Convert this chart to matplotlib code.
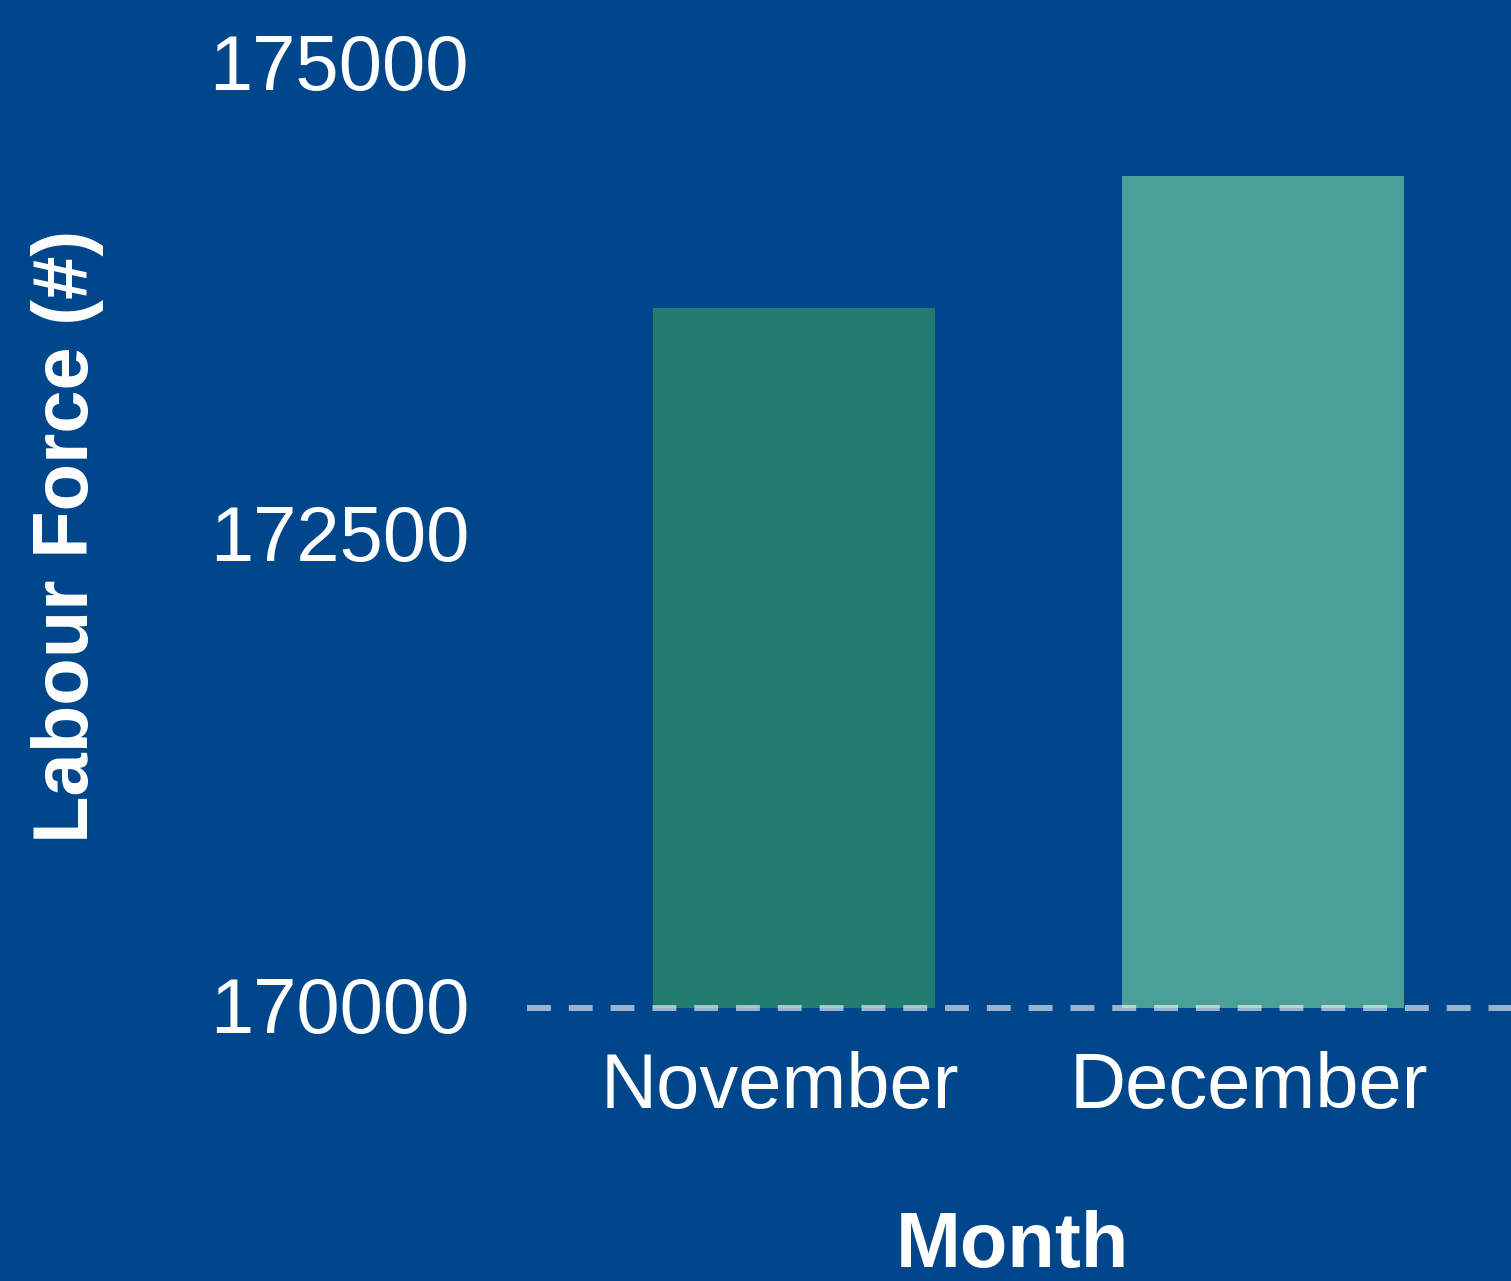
import matplotlib
matplotlib.use("Agg")
import matplotlib.pyplot as plt
import matplotlib.transforms as mtransforms

months = ["November", "December"]
labour_force = [173710, 174410]
bar_colors = ["#237C70", "#4AA096"]
y_ticks = [170000, 172500, 175000]

BG = "#00468B"
plt.rcParams["font.family"] = ["Liberation Sans", "DejaVu Sans"]

fig = plt.figure(figsize=(15.11, 12.81), dpi=100, facecolor=BG)
ax = fig.add_axes([0.349, 0.213, 0.651, 0.787], facecolor=BG)

x = list(range(len(months)))
base = y_ticks[0]
ax.bar(x, [v - base for v in labour_force], bottom=base, width=0.6,
       color=bar_colors, zorder=2)
ax.axhline(base, color="white", alpha=0.6, lw=4.3, ls=(0, (4, 3)),
           zorder=3, clip_on=False)

ax.set_xlim(-0.569, 1.529)
ax.set_ylim(170000, 175345)
ax.set_xticks(x)
ax.set_xticklabels(months)
ax.set_yticks(y_ticks)
ax.set_yticklabels([str(t) for t in y_ticks])
ax.tick_params(axis="both", length=0, colors="white", labelsize=56)
ax.tick_params(axis="y", pad=42)
ax.tick_params(axis="x", pad=31)
shift = mtransforms.ScaledTranslation(-0.14, 0, fig.dpi_scale_trans)
for lbl in ax.get_xticklabels():
    lbl.set_transform(lbl.get_transform() + shift)
yshift = mtransforms.ScaledTranslation(0, 0.04, fig.dpi_scale_trans)
for lbl in ax.get_yticklabels():
    lbl.set_transform(lbl.get_transform() + yshift)
for s in ax.spines.values():
    s.set_visible(False)

ax.set_xlabel("Month", color="white", fontsize=56, fontweight="bold")
ax.set_ylabel("Labour Force (#)", color="white", fontsize=56, fontweight="bold")
ax.yaxis.set_label_coords(-0.43, 0.468)
ax.xaxis.set_label_coords(0.493, -0.236)
ax.xaxis.label.set_va("center")

fig.savefig("out.png", dpi=100, facecolor=BG)
